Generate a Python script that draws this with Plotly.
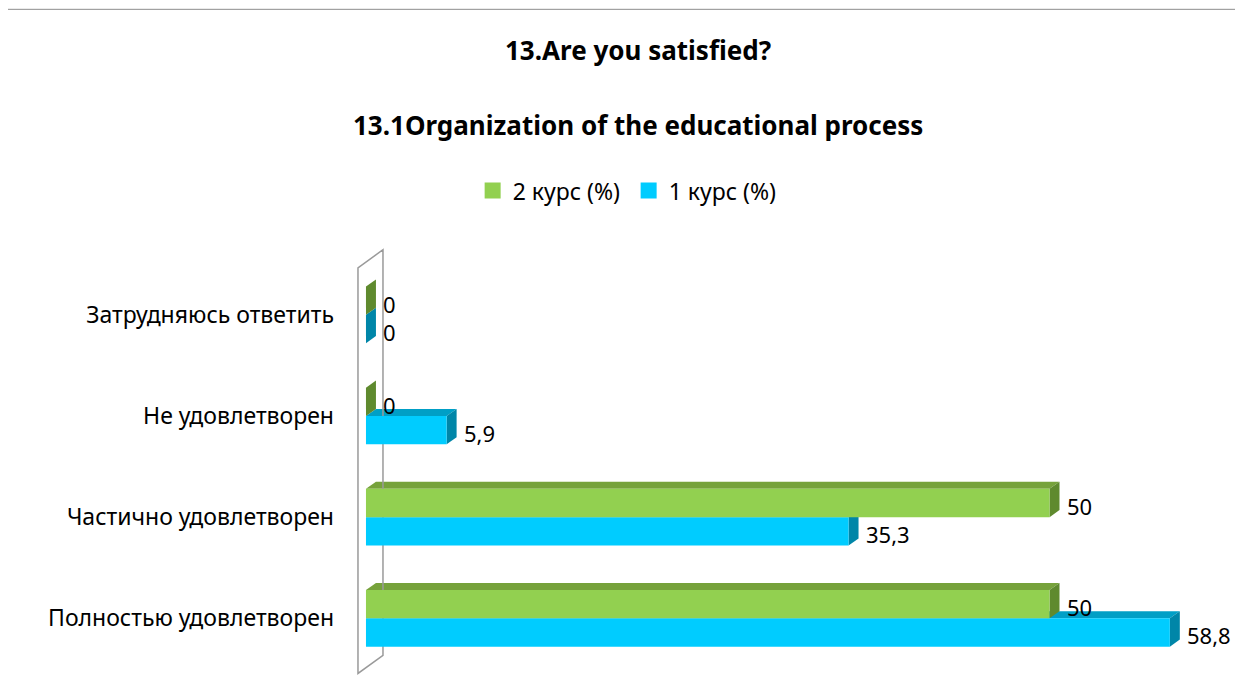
import plotly.graph_objects as go

# data (bottom to top, as in the picture)
categories = ["Полностью удовлетворен", "Частично удовлетворен", "Не удовлетворен", "Затрудняюсь ответить"]
kurs1 = [58.8, 35.3, 5.9, 0]
kurs2 = [50, 50, 0, 0]
series_names = ["1 курс (%)", "2 курс (%)"]

title1 = "13.Are you satisfied?"
title2 = "13.1Organization of the educational process"

# colours: front, top face, side face
green = ("#92D050", "#76A23B", "#5F8A2E")
blue = ("#00CCFF", "#009FC6", "#0086A8")

bw = 0.28        # bar thickness in category units
dx, dy = 0.73, 0.07   # 3d depth offset in data units

FONT = "Noto Sans"

pos = list(range(len(categories)))
y1 = [p - bw / 2 for p in pos]
y2 = [p + bw / 2 for p in pos]

fig = go.Figure()
fig.add_trace(go.Bar(y=y1, x=kurs1, orientation="h", width=bw, name=series_names[0], showlegend=False,
                     marker=dict(color=blue[0], line=dict(width=0))))
fig.add_trace(go.Bar(y=y2, x=kurs2, orientation="h", width=bw, name=series_names[1], showlegend=False,
                     marker=dict(color=green[0], line=dict(width=0))))
# legend entries with bigger square swatches
for nm, col in ((series_names[0], blue[0]), (series_names[1], green[0])):
    fig.add_trace(go.Scatter(x=[None], y=[None], mode="markers", name=nm,
                             marker=dict(symbol="square", size=16, color=col)))


def faces(ys, vals, col):
    out = []
    for yc, v in zip(ys, vals):
        lo, hi = yc - bw / 2, yc + bw / 2
        top = f"M0,{hi} L{v},{hi} L{v+dx},{hi+dy} L{dx},{hi+dy} Z"
        side = f"M{v},{lo} L{v},{hi} L{v+dx},{hi+dy} L{v+dx},{lo+dy} Z"
        out.append(dict(type="path", path=top, xref="x", yref="y", layer="below",
                        fillcolor=col[1], line=dict(width=0)))
        out.append(dict(type="path", path=side, xref="x", yref="y", layer="below",
                        fillcolor=col[2], line=dict(width=0)))
    return out


shapes = faces(y1, kurs1, blue) + faces(y2, kurs2, green)

# back wall outline
shapes.append(dict(type="path", xref="x", yref="y", layer="below",
                   path="M-0.585,-0.545 L-0.585,3.465 L1.244,3.644 L1.244,-0.366 Z",
                   line=dict(color="#9A9A9A", width=1.5), fillcolor="rgba(0,0,0,0)"))
# chart frame (top and left edges visible)
shapes.append(dict(type="rect", xref="paper", yref="paper", x0=-0.378, x1=1.06,
                   y0=-0.1, y1=1.522, line=dict(color="#8C8C8C", width=1)))

annotations = []
for ys, vals in ((y1, kurs1), (y2, kurs2)):
    for yc, v in zip(ys, vals):
        annotations.append(dict(x=v, y=yc, xref="x", yref="y", text=str(v).replace(".", ","),
                                showarrow=False, xanchor="left", yanchor="middle", xshift=15, yshift=-3,
                                font=dict(family=FONT, size=22, color="black")))

annotations.append(dict(text="<b>" + title1 + "</b>", xref="paper", yref="paper", x=0.3386, y=1.43,
                        showarrow=False, xanchor="center", yanchor="middle",
                        font=dict(family=FONT, size=26, color="black")))
annotations.append(dict(text="<b>" + title2 + "</b>", xref="paper", yref="paper", x=0.3386, y=1.26,
                        showarrow=False, xanchor="center", yanchor="middle",
                        font=dict(family=FONT, size=26, color="black")))

fig.update_layout(
    width=1235, height=690,
    margin=dict(l=332, r=23, t=231, b=19),
    paper_bgcolor="white", plot_bgcolor="white",
    barmode="overlay",
    shapes=shapes, annotations=annotations,
    showlegend=True,
    legend=dict(orientation="h", traceorder="reversed", x=0.328, xanchor="center",
                y=1.11, yanchor="middle", itemwidth=30, entrywidth=111, entrywidthmode="pixels",
                font=dict(family=FONT, size=23, color="black")),
    xaxis=dict(range=[-1.90, 62.47], visible=False, fixedrange=True),
    yaxis=dict(range=[-0.6, 3.75], tickvals=pos, ticktext=categories, showgrid=False,
               zeroline=False, showline=False, ticks="", ticklabelstandoff=5,
               tickfont=dict(family=FONT, size=23, color="black")),
)

fig.write_html("out.html")
